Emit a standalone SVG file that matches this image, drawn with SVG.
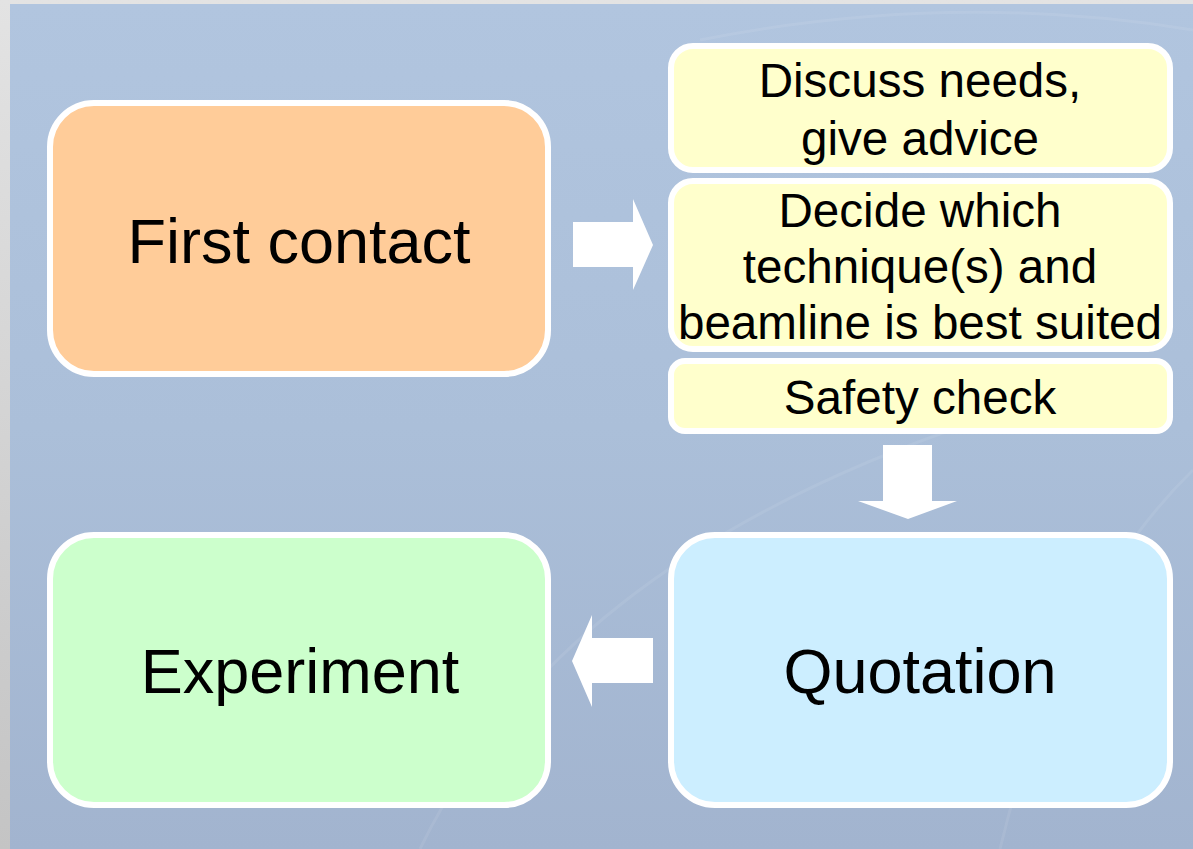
<svg xmlns="http://www.w3.org/2000/svg" width="1193" height="849" viewBox="0 0 1193 849">
<defs>
<linearGradient id="bg" x1="0" y1="0" x2="0" y2="1">
<stop offset="0" stop-color="#b1c5df"/>
<stop offset="0.5" stop-color="#abbfd9"/>
<stop offset="1" stop-color="#a2b4cf"/>
</linearGradient>
<linearGradient id="edge" x1="0" y1="0" x2="0" y2="1">
<stop offset="0" stop-color="#e3e3e3"/>
<stop offset="1" stop-color="#c4c4c4"/>
</linearGradient>
<style>
.box{stroke:#ffffff;stroke-width:6}
.lbl{font-family:"Liberation Sans",Arial,sans-serif;fill:#000000;text-anchor:middle}
.big{font-size:63px}
.sm{font-size:47.6px}
.arr{fill:#ffffff}
.deco{fill:none;stroke:#ffffff;stroke-opacity:0.08;stroke-width:3}
</style>
</defs>
<rect x="0" y="0" width="1193" height="849" fill="url(#edge)"/>
<rect x="10" y="4" width="1183" height="845" fill="url(#bg)"/>
<path class="deco" d="M 700 40 Q 950 -10 1193 30"/>
<path class="deco" d="M 420 849 Q 560 560 980 420"/>
<path class="deco" d="M 1000 849 Q 1060 600 1193 470"/>
<g id="first-contact">
<rect class="box" x="50" y="103" width="498" height="271" rx="44" fill="#ffcc99"/>
<text class="lbl big" x="299" y="263">First contact</text>
</g>
<g id="discuss">
<rect class="box" x="671" y="46" width="499" height="124" rx="22" fill="#ffffcc"/>
<text class="lbl sm" x="920" y="97">Discuss needs,</text>
<text class="lbl sm" x="920" y="155">give advice</text>
</g>
<g id="decide">
<rect class="box" x="671" y="181" width="499" height="168" rx="22" fill="#ffffcc"/>
<text class="lbl sm" x="920" y="227">Decide which</text>
<text class="lbl sm" x="920" y="283">technique(s) and</text>
<text class="lbl sm" x="920" y="339">beamline is best suited</text>
</g>
<g id="safety">
<rect class="box" x="671" y="361" width="499" height="70" rx="14" fill="#ffffcc"/>
<text class="lbl sm" x="920" y="414">Safety check</text>
</g>
<g id="quotation">
<rect class="box" x="671" y="535" width="499" height="270" rx="44" fill="#cceeff"/>
<text class="lbl big" x="920" y="693">Quotation</text>
</g>
<g id="experiment">
<rect class="box" x="50" y="535" width="498" height="270" rx="44" fill="#ccffcc"/>
<text class="lbl big" x="300" y="693">Experiment</text>
</g>
<g id="connectors">
<polygon class="arr" points="573,222 633,222 633,199 653,245 633,290 633,267 573,267"/>
<polygon class="arr" points="883,445 932,445 932,501 957,501 908,519 858,501 883,501"/>
<polygon class="arr" points="653,638 592,638 592,615 572,661 592,707 592,683 653,683"/>
</g>
</svg>
